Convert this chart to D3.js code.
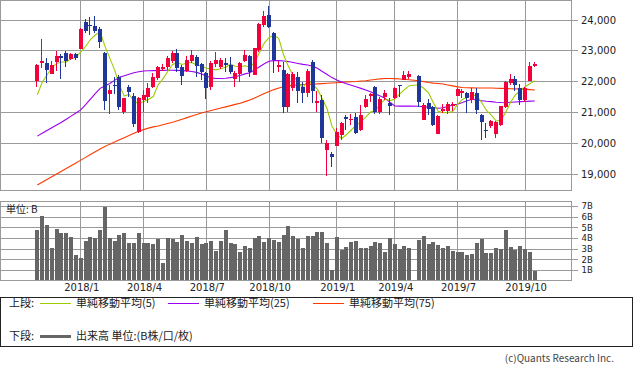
<!DOCTYPE html>
<html><head><meta charset="utf-8">
<script src="https://cdn.jsdelivr.net/npm/d3@7"></script>
<style>body{margin:0;background:#fff}svg{display:block}</style>
</head><body>
<svg id="chart" width="633" height="372"></svg>
<script>
// ---- DATA (weekly, Nikkei-style; the 2019-04-29 holiday week has no candle) ----
const weeks = ["2017-10-30","2017-11-06","2017-11-13","2017-11-20","2017-11-27","2017-12-04","2017-12-11","2017-12-18","2017-12-25",
"2018-01-01","2018-01-08","2018-01-15","2018-01-22","2018-01-29","2018-02-05","2018-02-12","2018-02-19","2018-02-26",
"2018-03-05","2018-03-12","2018-03-19","2018-03-26","2018-04-02","2018-04-09","2018-04-16","2018-04-23","2018-04-30",
"2018-05-07","2018-05-14","2018-05-21","2018-05-28","2018-06-04","2018-06-11","2018-06-18","2018-06-25",
"2018-07-02","2018-07-09","2018-07-16","2018-07-23","2018-07-30","2018-08-06","2018-08-13","2018-08-20","2018-08-27",
"2018-09-03","2018-09-10","2018-09-17","2018-09-24","2018-10-01","2018-10-08","2018-10-15","2018-10-22","2018-10-29",
"2018-11-05","2018-11-12","2018-11-19","2018-11-26","2018-12-03","2018-12-10","2018-12-17","2018-12-24","2018-12-31",
"2019-01-07","2019-01-14","2019-01-21","2019-01-28","2019-02-04","2019-02-11","2019-02-18","2019-02-25",
"2019-03-04","2019-03-11","2019-03-18","2019-03-25","2019-04-01","2019-04-08","2019-04-15","2019-04-22",
"2019-05-06","2019-05-13","2019-05-20","2019-05-27","2019-06-03","2019-06-10","2019-06-17","2019-06-24",
"2019-07-01","2019-07-08","2019-07-15","2019-07-22","2019-07-29","2019-08-05","2019-08-12","2019-08-19","2019-08-26",
"2019-09-02","2019-09-09","2019-09-16","2019-09-23","2019-09-30","2019-10-07","2019-10-14","2019-10-21"];

const open = [22030,22590,22615,22250,22640,22830,22920,22730,22900,
23060,23950,23830,23810,23700,22940,21600,21900,22140,
21025,21814,21533,20376,21400,21490,21836,22130,22410,
22485,22670,22940,22485,22344,22670,22788,22560,
22290,21814,22572,22463,22615,22539,22085,22247,22670,
22831,22214,23026,23838,24162,23567,22490,22377,21185,
21800,22140,21835,21620,22647,21295,21403,19785,19650,
19921,20267,20863,20750,20840,20429,21165,21533,
21814,21025,21511,21295,21457,21880,22052,22139,
22182,20760,21300,21165,20300,21050,21046,21210,
21540,21640,21640,21400,21620,20916,20430,20560,20300,
20590,21166,21944,22084,21782,21403,22030,22506];

const high = [22560,23380,22760,22670,22990,22880,22990,22940,22920,
23730,24030,24084,24129,23780,22960,21890,22160,22200,
21480,21890,21620,21510,21728,21966,22270,22520,22560,
22830,22994,23050,22540,22830,23026,22864,22590,
22300,22669,22972,22756,22756,22788,22355,22650,23026,
22864,23100,23900,24290,24454,23600,22670,22650,22290,
22300,22300,22000,22400,22700,21700,21560,20100,19700,
20484,20700,20916,20960,20990,21241,21560,21620,
21860,21510,21730,21460,21840,21890,22340,22340,
22200,21300,21420,21200,20900,21260,21340,21340,
21790,21750,21650,21800,21800,20950,20650,20750,20720,
21220,22020,22255,22180,21920,21830,22650,22650];

const low = [21820,22430,21970,22240,22360,22090,22460,22700,22700,
23050,23580,23500,23570,23090,21078,20950,21600,21090,
20937,21510,20540,20321,21025,21295,21780,22050,22355,
22380,22610,22320,21890,22320,22610,22139,22052,
21440,21728,22485,22400,22323,22247,21836,22000,22650,
22160,22200,22960,23780,23730,22290,22300,20970,21000,
21700,21300,21300,21500,21300,21000,20000,18948,19241,
19900,20100,20429,20600,20300,20408,21130,21350,
20950,20940,21400,20900,21440,21511,22050,22100,
21165,20750,20920,20550,20290,20970,20950,21050,
21530,21470,20990,21300,20960,20110,20184,20480,20170,
20560,21140,21900,21700,21250,21350,22020,22460];

const close = [22540,22670,22380,22530,22830,22770,22670,22900,22760,
23714,23653,23808,23631,23274,21382,21720,21892,21181,
21469,21676,20617,21454,21567,21778,22162,22467,22472,
22758,22930,22450,22171,22694,22851,22516,22304,
21788,22597,22697,22712,22525,22298,22270,22601,22865,
22307,23094,23869,24120,23784,22694,22532,21184,22243,
22250,21680,21646,22351,21679,21374,20166,20014,19561,
20359,20666,20773,20788,20333,20900,21425,21602,
21025,21450,21627,21205,21807,21870,22200,22258,
21344,21250,21117,20601,20884,21116,21258,21275,
21760,21700,21466,21658,21087,20684,20418,20710,20704,
21200,21988,22079,21879,21410,21798,22492,22580];

// volume, billions of shares
const volume = [4.78,6.09,5.25,3.09,4.88,4.5,4.5,4.13,2.44,
2.16,3.75,4.13,4.03,4.78,6.94,4.03,3.75,4.31,
4.5,3.56,3.56,4.5,3.56,3.56,3.47,3.94,1.69,
4.03,3.94,3.66,4.31,3.75,3.56,4.13,3.47,
3.56,3.75,2.84,3.75,4.78,3.56,3.47,2.72,3.28,
3.09,4.03,4.22,3.66,4.03,3.84,3.66,4.31,5.16,
4.22,3.94,3.09,4.22,4.22,4.59,4.59,3.56,1.03,
4.13,2.91,3.19,3.66,3.75,3.09,3.09,3.28,
3.66,3.56,2.72,4.03,3.47,3.0,3.28,3.09,
3.84,4.22,3.47,3.66,3.38,3.09,3.28,2.81,
2.72,2.72,2.44,2.53,3.56,3.94,2.63,2.63,3.09,
3.0,4.78,3.19,2.91,3.28,3.0,2.72,0.97];

const ma5 = [21570,21968,22216,22435,22590,22636,22636,22740,22786,
22963,23139,23367,23513,23616,23150,22763,22380,21890,
21529,21588,21367,21279,21357,21418,21516,21886,22089,
22327,22558,22615,22556,22601,22619,22536,22507,
22431,22411,22380,22420,22464,22566,22500,22481,22512,
22468,22627,22947,23251,23435,23512,23400,22863,22487,
22181,21978,21801,22034,21921,21746,21443,21117,20559,
20295,20153,20275,20429,20584,20692,20844,21010,
21057,21280,21426,21382,21423,21592,21742,21868,
21896,21784,21634,21314,21039,20994,20995,21027,
21259,21422,21492,21572,21534,21319,21063,20911,20721,
20743,21004,21336,21570,21711,21831,21932,22032];

const ma25 = [20230,20320,20410,20500,20590,20680,20780,20880,20980,
21080,21250,21430,21610,21780,21860,21940,22040,22140,
22190,22240,22290,22320,22345,22350,22355,22360,22365,
22370,22370,22365,22355,22345,22330,22300,22250,
22180,22120,22100,22100,22110,22130,22160,22200,22250,
22290,22380,22480,22580,22660,22680,22680,22670,22650,
22620,22590,22560,22540,22500,22430,22330,22230,22130,
22050,21990,21930,21880,21830,21780,21730,21670,
21600,21530,21460,21330,21210,21205,21205,21210,
21200,21185,21170,21160,21135,21150,21190,21240,
21265,21320,21380,21425,21400,21380,21360,21350,21330,
21320,21315,21330,21340,21350,21355,21365,21370];

const ma75 = [18640,18730,18820,18910,19000,19090,19180,19270,19360,
19450,19540,19630,19720,19810,19890,19970,20040,20110,
20180,20250,20320,20390,20440,20490,20530,20560,20600,
20640,20680,20730,20780,20830,20880,20930,20980,
21020,21060,21100,21140,21180,21220,21260,21300,21350,
21400,21470,21540,21610,21680,21740,21790,21830,21860,
21880,21900,21905,21910,21915,21925,21935,21945,21955,
21965,21975,21985,21995,22005,22020,22030,22050,
22070,22090,22100,22100,22095,22085,22075,22060,
22030,22000,21970,21950,21940,21920,21890,21860,
21830,21810,21800,21795,21790,21790,21790,21790,21785,
21780,21775,21770,21765,21760,21755,21740,21727];

const priceTicks = [19000,20000,21000,22000,23000,24000];
const volTicks = [1,2,3,4,5,6,7];
const xTickDates = ["2018-01-01","2018-04-02","2018-07-02","2018-10-01","2019-01-07","2019-04-01","2019-07-01","2019-10-07"];
const xTickLabels = ["2018/1","2018/4","2018/7","2018/10","2019/1","2019/4","2019/7","2019/10"];

// ---- CHART ----
const parse = d3.utcParse("%Y-%m-%d");
const rows = weeks.map((w,i)=>({d:parse(w),o:open[i],h:high[i],l:low[i],c:close[i],v:volume[i],m5:ma5[i],m25:ma25[i],m75:ma75[i]}));

const svg = d3.select("#chart");
const GRID = "#9a9a9a";
const UP = "#f2003c", DOWN = "#1f3799";
const PL = 0.5, PR = 571.5;

const x = d3.scaleUtc().domain(d3.extent(rows, r=>r.d)).range([37.3, 534.8]);
const y = d3.scaleLinear().domain([19000,24000]).range([174,20]);
const yv = d3.scaleLinear().domain([1,7]).range([270.4,206.4]);

const px = v => Math.floor(v)+0.5;

// price panel grid
const g1 = svg.append("g").attr("shape-rendering","crispEdges");
g1.selectAll(".hg").data(priceTicks).join("line")
  .attr("x1",PL).attr("x2",PR+6).attr("y1",d=>px(y(d))).attr("y2",d=>px(y(d)))
  .attr("stroke",GRID);
g1.selectAll(".vg").data(xTickDates).join("line")
  .attr("x1",d=>px(x(parse(d)))).attr("x2",d=>px(x(parse(d))))
  .attr("y1",0.5).attr("y2",190.5).attr("stroke",GRID);
g1.append("rect").attr("x",PL).attr("y",0.5).attr("width",PR-PL).attr("height",190)
  .attr("fill","none").attr("stroke",GRID);

// volume panel grid
const g2 = svg.append("g").attr("shape-rendering","crispEdges");
g2.selectAll(".hg").data(volTicks).join("line")
  .attr("x1",PL).attr("x2",PR+6).attr("y1",d=>px(yv(d))).attr("y2",d=>px(yv(d)))
  .attr("stroke",GRID);
g2.selectAll(".vg").data(xTickDates).join("line")
  .attr("x1",d=>px(x(parse(d)))).attr("x2",d=>px(x(parse(d))))
  .attr("y1",201.5).attr("y2",280.5).attr("stroke",GRID);

// volume bars
g2.selectAll(".vb").data(rows).join("rect")
  .attr("x",d=>Math.round(x(d.d)-2)).attr("width",4)
  .attr("y",d=>Math.round(yv(d.v))).attr("height",d=>280.5-Math.round(yv(d.v)))
  .attr("fill","#666");
g2.append("rect").attr("x",PL).attr("y",201.5).attr("width",PR-PL).attr("height",79)
  .attr("fill","none").attr("stroke",GRID);

// moving averages
const mkLine = key => d3.line().x(d=>x(d.d)).y(d=>y(d[key]));
[["m75","#ff3a00"],["m25","#9a00f2"],["m5","#9ccc00"]].forEach(([k,col])=>{
  svg.append("path").datum(rows).attr("d",mkLine(k)).attr("fill","none")
    .attr("stroke",col).attr("stroke-width",1.1);
});

// candles
const gc = svg.append("g").attr("shape-rendering","crispEdges");
const cand = gc.selectAll(".c").data(rows).join("g");
cand.append("line")
  .attr("x1",d=>Math.round(x(d.d)-2)+1.5).attr("x2",d=>Math.round(x(d.d)-2)+1.5)
  .attr("y1",d=>Math.round(y(d.h))).attr("y2",d=>Math.round(y(d.l)))
  .attr("stroke",d=>d.c>d.o?UP:DOWN);
cand.append("rect")
  .attr("x",d=>Math.round(x(d.d)-2)).attr("width",4)
  .attr("y",d=>Math.round(y(Math.max(d.o,d.c))))
  .attr("height",d=>Math.max(1,Math.round(y(Math.min(d.o,d.c)))-Math.round(y(Math.max(d.o,d.c)))))
  .attr("fill",d=>d.c>d.o?UP:DOWN);

// axis labels
const NUM = "DejaVu Sans, Liberation Sans, sans-serif";
const JP = "'Noto Sans CJK JP', 'Noto Sans', sans-serif";
svg.selectAll(".pl").data(priceTicks).join("text")
  .attr("x",581).attr("y",d=>y(d)).attr("dy","0.36em")
  .attr("font-family",NUM).attr("font-size",10).attr("fill","#222")
  .text(d=>d3.format(",")(d));
svg.selectAll(".vl").data(volTicks).join("text")
  .attr("x",581.5).attr("y",d=>yv(d)).attr("dy","0.36em")
  .attr("font-family",NUM).attr("font-size",8.5).attr("fill","#222")
  .text(d=>d+"B");
svg.selectAll(".xl").data(xTickDates).join("text")
  .attr("x",(d)=>x(parse(d))+1).attr("y",291).attr("text-anchor","middle")
  .attr("font-family",NUM).attr("font-size",10).attr("fill","#222")
  .text((d,i)=>xTickLabels[i]);
svg.append("text").attr("x",6).attr("y",213).attr("font-family",JP).attr("font-size",10)
  .attr("fill","#222").text("単位: B");

// legend
svg.append("rect").attr("x",0.5).attr("y",297.5).attr("width",632).attr("height",49)
  .attr("fill","none").attr("stroke","#222").attr("shape-rendering","crispEdges");
const leg = svg.append("g").attr("font-family",JP).attr("font-size",11).attr("fill","#222");
leg.append("text").attr("x",9).attr("y",303).attr("dy","0.36em").text("上段:");
[["#9ccc00",40,"単純移動平均(5)"],["#9a00f2",168,"単純移動平均(25)"],["#ff3a00",313,"単純移動平均(75)"]].forEach(([c,x0,t])=>{
  leg.append("line").attr("x1",x0).attr("x2",x0+31).attr("y1",303.5).attr("y2",303.5).attr("stroke",c);
  leg.append("text").attr("x",x0+36).attr("y",303).attr("dy","0.36em").text(t);
});
leg.append("text").attr("x",9).attr("y",336).attr("dy","0.36em").text("下段:");
leg.append("line").attr("x1",40).attr("x2",71).attr("y1",336.5).attr("y2",336.5).attr("stroke","#666").attr("stroke-width",3);
leg.append("text").attr("x",76).attr("y",336).attr("dy","0.36em").text("出来高 単位:(B株/口/枚)");

svg.append("text").attr("x",614).attr("y",358).attr("dy","0.36em").attr("text-anchor","end")
  .attr("font-family",JP).attr("font-size",10).attr("fill","#444").text("(c)Quants Research Inc.");
</script>
</body></html>
